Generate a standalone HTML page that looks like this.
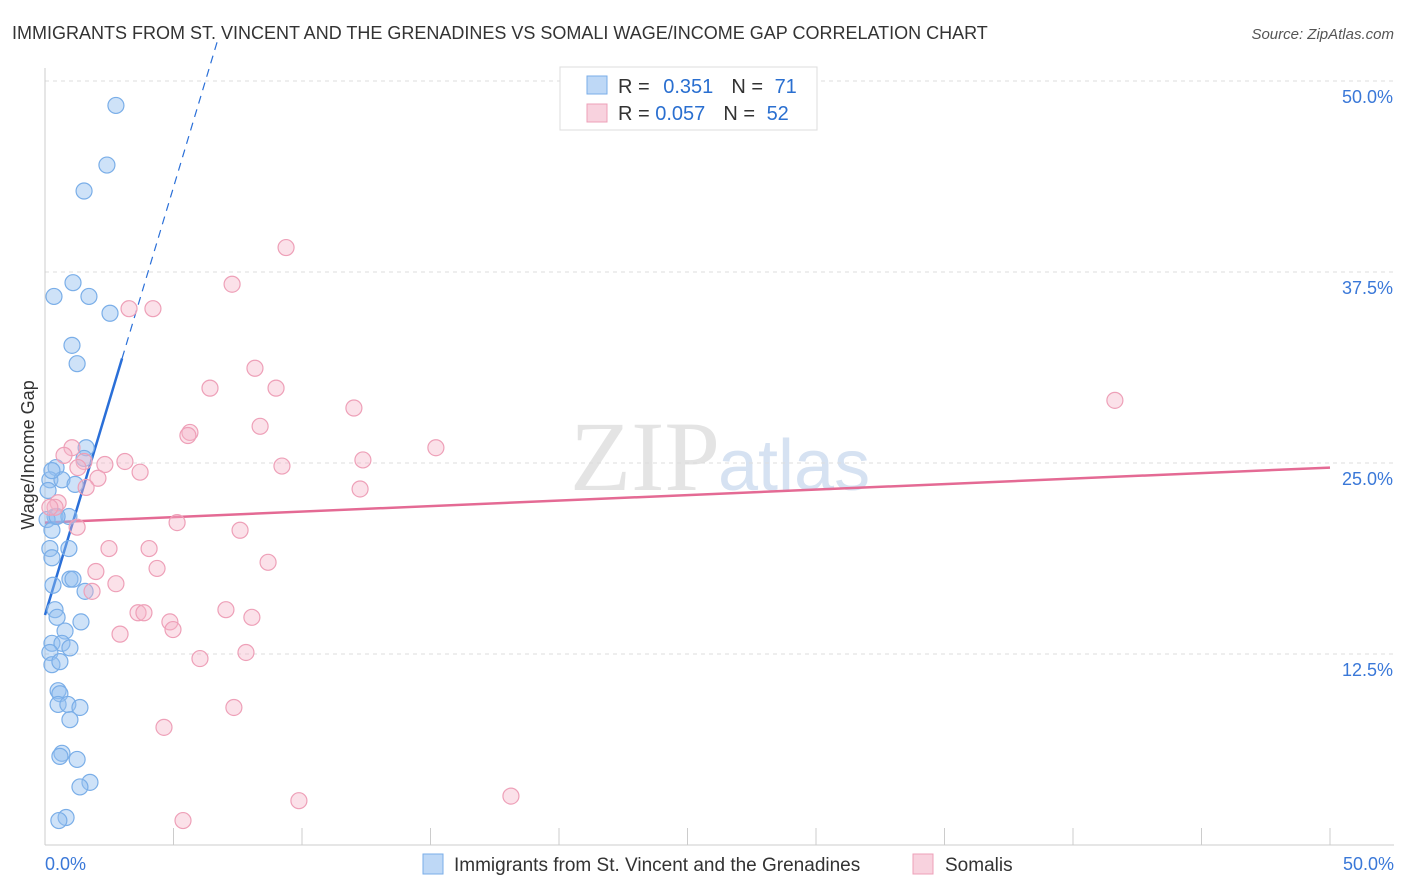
<!DOCTYPE html>
<html><head><meta charset="utf-8"><style>
body{margin:0;background:#fff;font-family:"Liberation Sans",sans-serif;}
svg{display:block}
</style></head><body>
<svg width="1406" height="892" xmlns="http://www.w3.org/2000/svg" font-family="Liberation Sans, sans-serif">
<text x="12" y="39" font-size="18" fill="#333">IMMIGRANTS FROM ST. VINCENT AND THE GRENADINES VS SOMALI WAGE/INCOME GAP CORRELATION CHART</text>
<text x="1394" y="39" font-size="15" fill="#555" font-style="italic" text-anchor="end">Source: ZipAtlas.com</text>
<text x="720" y="490" font-size="100" fill="#e4e4e4" text-anchor="end" font-family="Liberation Serif, serif">ZIP</text>
<text x="718" y="490" font-size="72" fill="#d6e2f2">atlas</text>
<g id="grid"></g>
<g id="axes"></g>
<g id="lines"></g>
<g id="pts"></g>
<text transform="translate(34,455) rotate(-90)" font-size="18" fill="#333" text-anchor="middle">Wage/Income Gap</text>
<g>
<rect x="560" y="67" width="257" height="63" fill="#fff" stroke="#ddd"/>
<rect x="587" y="76" width="20" height="18" fill="rgba(147,190,240,0.6)" stroke="#7aaee8"/>
<text x="618" y="93" font-size="20" fill="#333">R = <tspan fill="#2a6fd0" dx="8">0.351</tspan><tspan dx="18" fill="#333">N = </tspan><tspan fill="#2a6fd0" dx="6">71</tspan></text>
<rect x="587" y="104" width="20" height="18" fill="rgba(244,180,200,0.6)" stroke="#eea0b8"/>
<text x="618" y="120" font-size="20" fill="#333">R = <tspan fill="#2a6fd0">0.057</tspan><tspan dx="18" fill="#333">N = </tspan><tspan fill="#2a6fd0" dx="6">52</tspan></text>
</g>
<g>
<rect x="423" y="854" width="20" height="20" fill="rgba(147,190,240,0.6)" stroke="#7aaee8"/>
<text x="454" y="871" font-size="19" fill="#333">Immigrants from St. Vincent and the Grenadines</text>
<rect x="913" y="854" width="20" height="20" fill="rgba(244,180,200,0.6)" stroke="#eea0b8"/>
<text x="945" y="871" font-size="19" fill="#333">Somalis</text>
</g>
</svg>
<script>
const blueX=[2.76,2.41,1.52,1.09,0.35,1.71,2.53,1.05,1.25,1.60,0.43,0.19,0.66,1.17,1.52,0.39,0.93,0.08,0.19,0.93,0.27,0.31,0.97,1.09,1.56,0.39,0.47,1.40,0.78,0.27,0.66,0.97,0.19,0.27,0.58,0.51,0.58,0.51,0.89,1.36,0.97,0.66,0.58,1.25,1.75,1.36,0.82,0.54,0.27,0.12,0.27,0.47];
const blueY=[48.4,44.5,42.8,36.8,35.9,35.9,34.8,32.7,31.5,26.0,24.7,23.9,23.9,23.6,25.3,21.5,21.5,21.3,19.4,19.4,18.8,17.0,17.4,17.4,16.6,15.4,14.9,14.6,14.0,13.2,13.2,12.9,12.6,11.8,12.0,10.1,9.9,9.2,9.2,9.0,8.2,6.0,5.8,5.6,4.1,3.8,1.8,1.6,24.5,23.2,20.6,21.5];
const pinkX=[9.38,7.28,4.20,3.27,8.17,6.42,8.99,12.02,41.63,8.37,5.64,5.56,15.21,1.05,0.74,1.52,3.11,2.33,12.37,3.70,9.22,1.28,2.06,1.60,12.26,0.51,0.39,5.14,1.25,7.59,2.49,4.05,8.68,4.36,1.98,2.76,1.83,7.04,3.62,3.85,8.05,4.86,4.98,2.92,7.82,6.03,7.35,4.63,9.88,18.13,5.37,0.19];
const pinkY=[39.1,36.7,35.1,35.1,31.2,29.9,29.9,28.6,29.1,27.4,27.0,26.8,26.0,26.0,25.5,25.1,25.1,24.9,25.2,24.4,24.8,24.7,24.0,23.4,23.3,22.4,22.1,21.1,20.8,20.6,19.4,19.4,18.5,18.1,17.9,17.1,16.6,15.4,15.2,15.2,14.9,14.6,14.1,13.8,12.6,12.2,9.0,7.7,2.9,3.2,1.6,22.1];
const yTicks=[12.5,25,37.5,50];
const yTickLabels=["12.5%","25.0%","37.5%","50.0%"];
const xTicks=[5,10,15,20,25,30,35,40,45,50];
const blueTrend=[15.05,5.6];
const pinkTrend=[21.1,24.7];
const NS="http://www.w3.org/2000/svg";
const X=v=>45+v*25.7, Y=v=>845-v*15.28;
function mk(t,a,p){const e=document.createElementNS(NS,t);for(const k in a)e.setAttribute(k,a[k]);p.appendChild(e);return e;}
const grid=document.getElementById('grid'),axes=document.getElementById('axes'),lines=document.getElementById('lines'),pts=document.getElementById('pts');
yTicks.forEach((v,i)=>{
 const l=mk('line',{x1:45,x2:1394,y1:Y(v),y2:Y(v),stroke:'#ddd','stroke-dasharray':'4,4'},grid);
 
 
 const t=mk('text',{x:1393,y:Y(v)+22,'font-size':18,fill:'#3a78d8','text-anchor':'end'},axes);
 t.textContent=yTickLabels[i];
 
 
});
mk('line',{x1:45,x2:45,y1:68,y2:845,stroke:'#ccc'},axes);
mk('line',{x1:45,x2:1394,y1:845,y2:845,stroke:'#ccc'},axes);
xTicks.forEach(v=>{
 const l=mk('line',{x1:X(v),x2:X(v),y1:828,y2:845,stroke:'#ccc'},axes);
 
 
});
let t0=mk('text',{x:45,y:870,'font-size':18,fill:'#3a78d8'},axes);t0.textContent='0.0%';


let t1=mk('text',{x:1394,y:870,'font-size':18,fill:'#3a78d8','text-anchor':'end'},axes);t1.textContent='50.0%';


for(let i=0;i<blueX.length;i++){
 const c=mk('circle',{cx:X(blueX[i]),cy:Y(blueY[i]),r:8,fill:'rgba(147,190,240,0.45)',stroke:'#7aaee8','stroke-width':1.2},pts);
 
 
}
for(let i=0;i<pinkX.length;i++){
 const c=mk('circle',{cx:X(pinkX[i]),cy:Y(pinkY[i]),r:8,fill:'rgba(244,180,200,0.4)',stroke:'#eea0b8','stroke-width':1.2},pts);
 
 
}
const bx1=3.0, bx2=(50-blueTrend[0])/blueTrend[1];
const b1=mk('line',{x1:X(0),y1:Y(blueTrend[0]),x2:X(bx1),y2:Y(blueTrend[0]+blueTrend[1]*bx1),stroke:'#2a6fd8','stroke-width':2.5},lines);


const b2=mk('line',{x1:X(bx1),y1:Y(blueTrend[0]+blueTrend[1]*bx1),x2:X(bx2+0.5),y2:Y(blueTrend[0]+blueTrend[1]*(bx2+0.5)),stroke:'#2a6fd8','stroke-width':1.2,'stroke-dasharray':'8,6'},lines);


const p1=mk('line',{x1:X(0),y1:Y(pinkTrend[0]),x2:X(50),y2:Y(pinkTrend[1]),stroke:'#e46a94','stroke-width':2.5},lines);


</script>
</body></html>
